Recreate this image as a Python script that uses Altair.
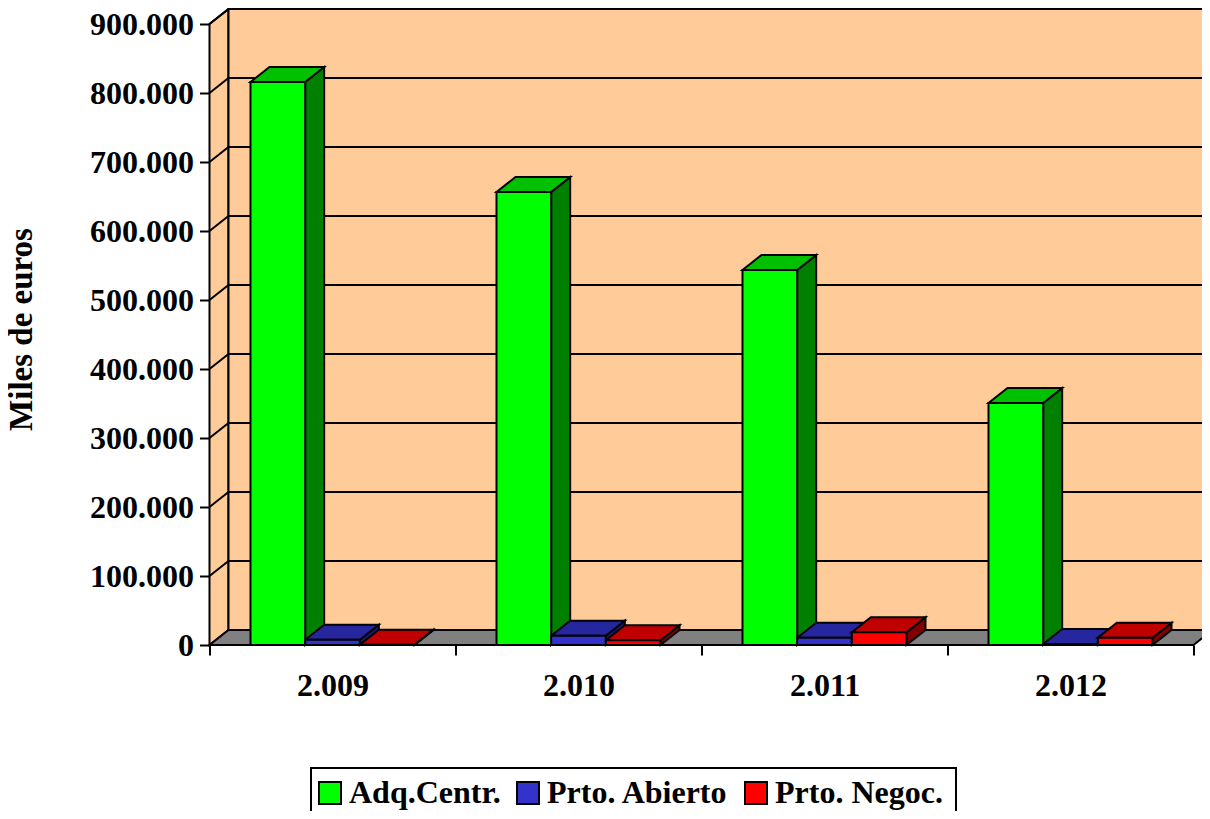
import altair as alt
import pandas as pd

years = ["2.009", "2.010", "2.011", "2.012"]
series = ["Adq.Centr.", "Prto. Abierto", "Prto. Negoc."]
adq = [816000, 656500, 543500, 350700]
abierto = [7500, 13500, 10500, 1500]
negoc = [500, 6800, 18500, 10500]
front_colors = ["#00FF00", "#3333CC", "#FF0000"]
top_colors = ["#00C000", "#26269F", "#C00000"]
side_colors = ["#008000", "#1A1A80", "#800000"]
y_ticks = [0, 100000, 200000, 300000, 400000, 500000, 600000, 700000, 800000, 900000]

WALL = "#FFCC99"
FLOOR = "#808080"
LW = 2
FONT = "Liberation Serif"
PX_PER_GROUP = 246
PX_PER_VALUE = 0.00069
DX = 19 / PX_PER_GROUP
DY = 15 / PX_PER_VALUE
PLOT_W = 992.5
PLOT_H = 636
X_MAX = PLOT_W / PX_PER_GROUP
X_WALL = (PLOT_W + 12) / PX_PER_GROUP
Y_MAX = 900000 + DY
BAR_W = 2 / 9
GROUP_PAD = 1 / 6

x_ticks = [0, 0.5, 1, 1.5, 2, 2.5, 3, 3.5, 4]
label_expr = ("datum.value % 1 == 0 ? '' : "
              "['" + "','".join(years) + "'][floor(datum.value)]")

xs = alt.Scale(domain=[0, X_MAX], nice=False, zero=False)
ys = alt.Scale(domain=[0, Y_MAX], nice=False, zero=False)
x_axis = alt.Axis(
    values=x_ticks, labelExpr=label_expr, title=None, domain=False, grid=False,
    tickColor="black", tickWidth=LW, tickSize=10, labelPadding=15,
    tickOpacity={"condition": {"test": "datum.value % 1 == 0", "value": 1}, "value": 0},
    labelFont=FONT, labelFontWeight="bold", labelFontSize=32, labelColor="black",
    labelOverlap=False, labelFlush=False,
)
y_axis = alt.Axis(
    values=y_ticks, title="Miles de euros", domain=False, grid=False,
    labelExpr="replace(format(datum.value, ',d'), ',', '.')",
    tickColor="black", tickWidth=LW, tickSize=10, labelPadding=6,
    labelFont=FONT, labelFontWeight="bold", labelFontSize=32, labelColor="black",
    labelOverlap=False, labelFlush=False,
    titleFont=FONT, titleFontWeight="bold", titleFontSize=33, titleColor="black",
    titleX=-171.5, titleY=320,
)
X = alt.X("x:Q", scale=xs, axis=x_axis)
Y = alt.Y("y:Q", scale=ys, axis=y_axis)
Y2 = alt.Y2("y2:Q")

# --- walls and floor ---
walls = pd.DataFrame([
    {"id": "left", "x": 0, "y": 900000, "y2": 0, "fill": WALL},
    {"id": "left", "x": DX, "y": Y_MAX, "y2": DY, "fill": WALL},
    {"id": "back", "x": DX, "y": Y_MAX, "y2": DY, "fill": WALL},
    {"id": "back", "x": X_WALL, "y": Y_MAX, "y2": DY, "fill": WALL},
    {"id": "floor", "x": 0, "y": 0, "y2": 0, "fill": FLOOR},
    {"id": "floor", "x": DX, "y": DY, "y2": 0, "fill": FLOOR},
    {"id": "floor", "x": 4, "y": DY, "y2": 0, "fill": FLOOR},
    {"id": "floor", "x": 4 + DX, "y": DY, "y2": DY, "fill": FLOOR},
])

def area_layer(df):
    return alt.Chart(df).mark_area(stroke="black", strokeWidth=LW, strokeJoin="miter").encode(
        x=X, y=Y, y2=Y2,
        detail="id:N",
        fill=alt.Fill("fill:N", scale=None, legend=None),
    )

# --- gridlines ---
grid_rows = []
for v in y_ticks[1:]:
    grid_rows.append({"v": v, "x": 0, "y": v})
    grid_rows.append({"v": v, "x": DX, "y": v + DY})
    grid_rows.append({"v": v, "x": X_WALL, "y": v + DY})
grid = alt.Chart(pd.DataFrame(grid_rows)).mark_line(color="black", strokeWidth=LW).encode(
    x=X, y=Y, detail="v:N"
)

# --- bars ---
front, tops, sides = [], [], []
for k, (name, vals) in enumerate(zip(series, [adq, abierto, negoc])):
    for i, v in enumerate(vals):
        x0 = i + GROUP_PAD + k * BAR_W
        x1 = x0 + BAR_W
        front.append({"series": name, "x": x0, "x2": x1, "y": v, "y2": 0})
        tid = f"t{k}{i}"
        tops += [
            {"id": tid, "x": x0, "y": v, "y2": v, "fill": top_colors[k]},
            {"id": tid, "x": x0 + DX, "y": v + DY, "y2": v, "fill": top_colors[k]},
            {"id": tid, "x": x1, "y": v + DY, "y2": v, "fill": top_colors[k]},
            {"id": tid, "x": x1 + DX, "y": v + DY, "y2": v + DY, "fill": top_colors[k]},
        ]
        sid = f"s{k}{i}"
        sides += [
            {"id": sid, "x": x1, "y": v, "y2": 0, "fill": side_colors[k]},
            {"id": sid, "x": x1 + DX, "y": v + DY, "y2": DY, "fill": side_colors[k]},
        ]

bars = alt.Chart(pd.DataFrame(front)).mark_bar(stroke="black", strokeWidth=LW, cornerRadius=0).encode(
    x=X, x2=alt.X2("x2:Q"), y=Y, y2=Y2,
    color=alt.Color(
        "series:N",
        scale=alt.Scale(domain=series, range=front_colors),
        legend=alt.Legend(
            title=None, orient="none", direction="horizontal", columns=3,
            legendX=104.5, legendY=768,
            padding=0,
            symbolType="square", symbolSize=484, symbolStrokeColor="black",
            symbolStrokeWidth=LW, symbolOpacity=1,
            labelFont=FONT, labelFontWeight="bold", labelFontSize=32, labelColor="black",
            labelOffset=3, columnPadding=11, labelLimit=400,
        ),
    ),
)

# legend frame: its lower edge falls below the picture, as in the reference
frame = alt.Chart(pd.DataFrame({"frame": [0]})).mark_rect(
    fill="white", stroke="black", strokeWidth=LW
).encode(
    x=alt.value(101.5), x2=alt.value(746.5), y=alt.value(759), y2=alt.value(830)
)

chart = alt.layer(
    area_layer(walls), grid, area_layer(pd.DataFrame(sides)), area_layer(pd.DataFrame(tops)), bars, frame
).properties(
    width=PLOT_W, height=PLOT_H,
    padding={"left": 201.5, "top": 1, "right": 0, "bottom": 166},
    autosize=alt.AutoSizeParams(type="none"),
    background="white",
).configure_view(stroke=None)

chart.save("out.html", embed_options={"renderer": "svg", "actions": False})
